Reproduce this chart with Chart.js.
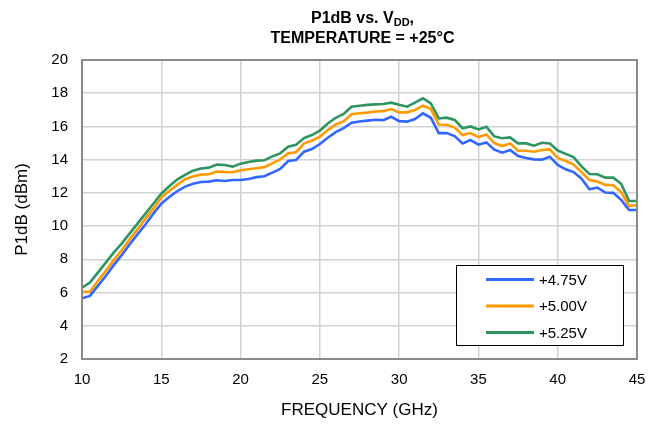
<!DOCTYPE html>
<html>
<head>
<meta charset="utf-8">
<script src="https://cdn.jsdelivr.net/npm/chart.js@4.4.1/dist/chart.umd.min.js"></script>
<style>
  html, body { margin: 0; padding: 0; background: #ffffff; }
  #wrap { position: relative; width: 659px; height: 426px; }
</style>
</head>
<body>
<div id="wrap"><canvas id="c" width="659" height="426"></canvas></div>
<script>
// ---- Data ----
const freqGHz = [10,10.5,11,11.5,12,12.5,13,13.5,14,14.5,15,15.5,16,16.5,17,17.5,18,18.5,19,19.5,20,20.5,21,21.5,22,22.5,23,23.5,24,24.5,25,25.5,26,26.5,27,27.5,28,28.5,29,29.5,30,30.5,31,31.5,32,32.5,33,33.5,34,34.5,35,35.5,36,36.5,37,37.5,38,38.5,39,39.5,40,40.5,41,41.5,42,42.5,43,43.5,44,44.5,45];

const p1dB_475 = [5.65,5.8,6.4,7.0,7.65,8.25,8.9,9.5,10.1,10.75,11.35,11.75,12.1,12.38,12.55,12.66,12.68,12.76,12.72,12.78,12.78,12.84,12.95,13.0,13.22,13.44,13.92,13.98,14.48,14.64,14.94,15.32,15.66,15.9,16.22,16.3,16.35,16.4,16.38,16.58,16.32,16.29,16.45,16.79,16.52,15.6,15.6,15.42,14.98,15.18,14.9,15.04,14.6,14.42,14.58,14.22,14.1,14.02,14.0,14.18,13.68,13.42,13.25,12.85,12.22,12.32,12.02,12.0,11.58,10.97,10.97];

const p1dB_500 = [6.05,6.05,6.7,7.3,7.95,8.55,9.2,9.8,10.45,11.05,11.72,12.12,12.48,12.82,12.98,13.1,13.12,13.28,13.26,13.24,13.36,13.42,13.48,13.55,13.78,14.02,14.38,14.45,14.98,15.14,15.38,15.78,16.12,16.3,16.73,16.79,16.83,16.9,16.92,17.05,16.85,16.85,16.99,17.25,17.06,16.12,16.1,15.93,15.48,15.6,15.36,15.52,15.0,14.82,14.98,14.54,14.54,14.48,14.58,14.62,14.1,13.92,13.7,13.25,12.78,12.68,12.48,12.46,12.05,11.21,11.27];

const p1dB_525 = [6.29,6.6,7.2,7.8,8.4,8.95,9.55,10.15,10.75,11.35,11.95,12.4,12.8,13.08,13.34,13.47,13.52,13.7,13.68,13.58,13.76,13.86,13.94,13.96,14.2,14.38,14.78,14.9,15.3,15.48,15.74,16.18,16.52,16.75,17.19,17.25,17.3,17.33,17.35,17.43,17.3,17.19,17.43,17.69,17.39,16.48,16.53,16.39,15.89,16.0,15.82,15.98,15.4,15.29,15.34,14.98,14.98,14.84,15.02,14.98,14.55,14.35,14.15,13.6,13.14,13.12,12.92,12.92,12.55,11.51,11.51];

const seriesLabels = ['+4.75V', '+5.00V', '+5.25V'];
const xTickValues = [10, 15, 20, 25, 30, 35, 40, 45];
const yTickValues = [2, 4, 6, 8, 10, 12, 14, 16, 18, 20];
const titleLine1 = { main: 'P1dB vs. V', sub: 'DD', tail: ',' };
const titleLine2 = 'TEMPERATURE = +25°C';
const xTitle = 'FREQUENCY (GHz)';
const yTitle = 'P1dB (dBm)';

// ---- Styles ----
const colors = ['#3366ff', '#ff9900', '#2e9460'];
const FONT = 'Arial, "Liberation Sans", sans-serif';

const toPts = arr => freqGHz.map((f, i) => ({ x: f, y: arr[i] }));

const titlePlugin = {
  id: 'titlePlugin',
  afterDraw(chart) {
    const ctx = chart.ctx;
    const ca = chart.chartArea;
    const cx = (ca.left + ca.right) / 2 + 3;
    ctx.save();
    ctx.fillStyle = '#000';
    ctx.textBaseline = 'alphabetic';
    const big = 'bold 16px ' + FONT;
    const small = 'bold 11px ' + FONT;
    ctx.font = big;
    const w1 = ctx.measureText(titleLine1.main).width;
    const w3 = ctx.measureText(titleLine1.tail).width;
    ctx.font = small;
    const w2 = ctx.measureText(titleLine1.sub).width;
    let x = cx - (w1 + w2 + w3) / 2;
    const y1 = 23;
    ctx.textAlign = 'left';
    ctx.font = big; ctx.fillText(titleLine1.main, x, y1); x += w1;
    ctx.font = small; ctx.fillText(titleLine1.sub, x, y1 + 3); x += w2;
    ctx.font = big; ctx.fillText(titleLine1.tail, x, y1);
    ctx.textAlign = 'center';
    ctx.fillText(titleLine2, cx, 43);
    ctx.restore();
  }
};

const framePlugin = {
  id: 'framePlugin',
  afterDatasetsDraw(chart) {
    const ctx = chart.ctx;
    const ca = chart.chartArea;
    ctx.save();
    ctx.strokeStyle = '#8a8a8a';
    ctx.lineWidth = 2;
    ctx.strokeRect(ca.left, ca.top, ca.right - ca.left, ca.bottom - ca.top);
    // legend box
    const bw = 167, bh = 80;
    const bx = ca.right - 14 - bw, by = ca.bottom - 14 - bh;
    ctx.fillStyle = '#ffffff';
    ctx.fillRect(bx, by, bw, bh);
    ctx.strokeStyle = '#000000';
    ctx.lineWidth = 1;
    ctx.strokeRect(bx + 0.5, by + 0.5, bw, bh);
    ctx.font = '15px ' + FONT;
    ctx.textBaseline = 'middle';
    ctx.textAlign = 'left';
    chart.data.datasets.forEach((ds, i) => {
      const yy = by + 14.5 + i * 26.5;
      ctx.strokeStyle = ds.borderColor;
      ctx.lineWidth = 3;
      ctx.beginPath();
      ctx.moveTo(bx + 30, yy);
      ctx.lineTo(bx + 78, yy);
      ctx.stroke();
      ctx.fillStyle = '#000';
      ctx.fillText(ds.label, bx + 83, yy + 1);
    });
    ctx.restore();
  }
};

new Chart(document.getElementById('c'), {
  type: 'line',
  data: {
    datasets: [
      { label: seriesLabels[0], data: toPts(p1dB_475), borderColor: colors[0] },
      { label: seriesLabels[1], data: toPts(p1dB_500), borderColor: colors[1] },
      { label: seriesLabels[2], data: toPts(p1dB_525), borderColor: colors[2] }
    ]
  },
  options: {
    responsive: false,
    animation: false,
    devicePixelRatio: 1,
    layout: { padding: { left: 0, top: 60, right: 22, bottom: 0 } },
    elements: {
      line: { borderWidth: 2.6, tension: 0, fill: false },
      point: { radius: 0 }
    },
    plugins: { legend: { display: false }, title: { display: false }, tooltip: { enabled: false } },
    scales: {
      x: {
        type: 'linear', min: 10, max: 45,
        afterBuildTicks: s => { s.ticks = xTickValues.map(v => ({ value: v })); },
        afterFit: s => { s.height = 67; },
        ticks: { color: '#000', font: { size: 15, family: FONT }, padding: 12, maxRotation: 0 },
        grid: { color: '#d2d2d2', lineWidth: 1.5, drawTicks: false },
        border: { display: false },
        title: { display: true, text: xTitle, color: '#000', font: { size: 17, family: FONT }, padding: { top: 5, bottom: 5 } }
      },
      y: {
        min: 2, max: 20,
        afterBuildTicks: s => { s.ticks = yTickValues.map(v => ({ value: v })); },
        afterFit: s => { s.width = 82; },
        ticks: { color: '#000', font: { size: 15, family: FONT }, padding: 14 },
        grid: { color: '#d2d2d2', lineWidth: 1.5, drawTicks: false },
        border: { display: false },
        title: { display: true, text: yTitle, color: '#000', font: { size: 17, family: FONT }, padding: { top: 12, bottom: 4 } }
      }
    }
  },
  plugins: [framePlugin, titlePlugin]
});
</script>
</body>
</html>
